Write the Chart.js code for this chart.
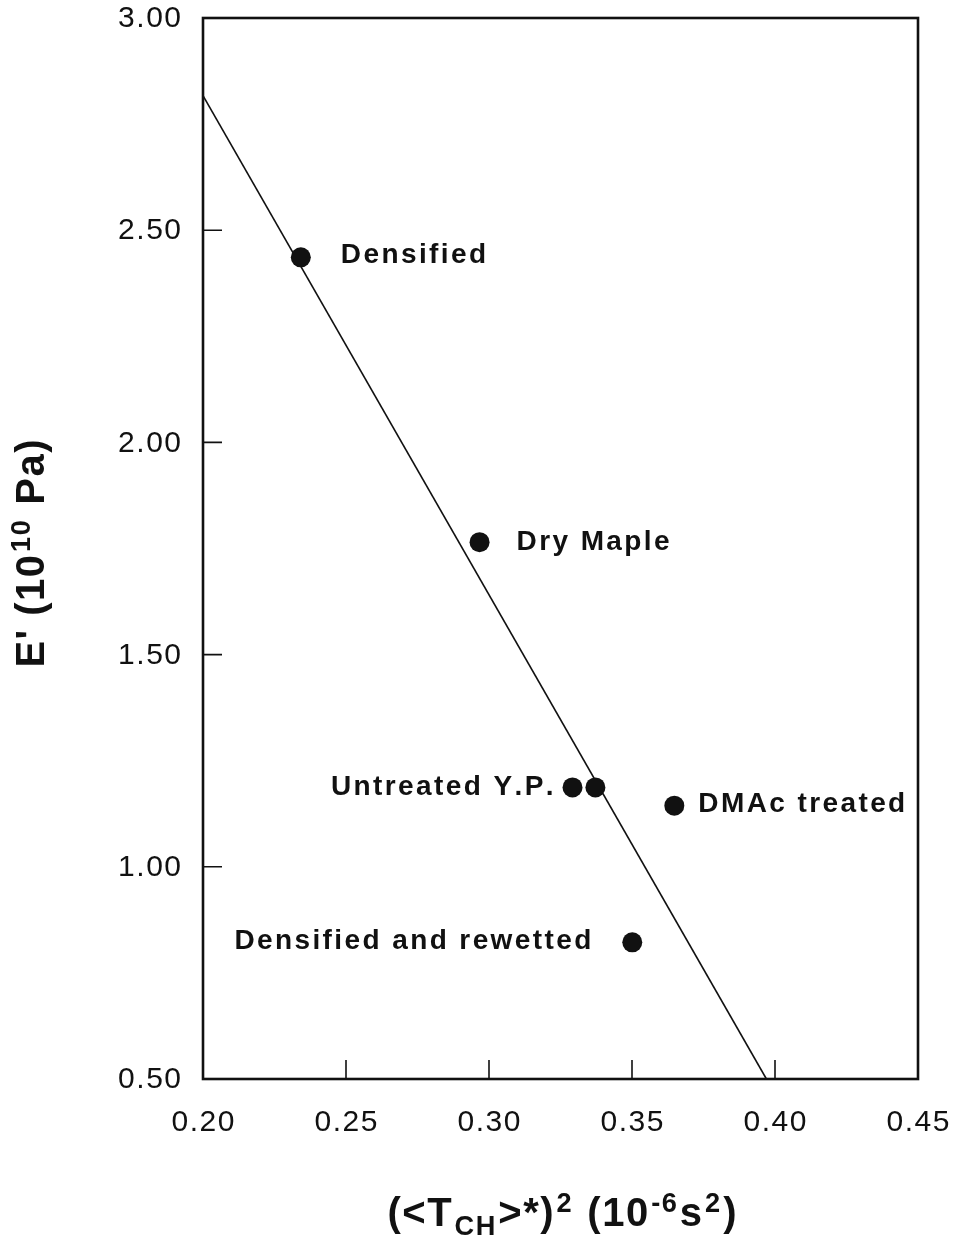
<!DOCTYPE html>
<html>
<head>
<meta charset="utf-8">
<script src="https://cdn.jsdelivr.net/npm/chart.js@4/dist/chart.umd.min.js"></script>
<style>
  html, body { margin: 0; padding: 0; background: #fff; }
  #wrap { width: 956px; height: 1244px; }
</style>
</head>
<body>
<div id="wrap"><canvas id="c" width="956" height="1244"></canvas></div>
<script>
// Samples: squared normalized relaxation time vs. storage modulus
const sampleNames    = ["Densified", "Dry Maple", "Untreated Y.P.", "", "DMAc treated", "Densified and rewetted"];
const tauSquared     = [0.2342, 0.2967, 0.3292, 0.3372, 0.3648, 0.3501];
const storageModulus = [2.436, 1.765, 1.187, 1.187, 1.144, 0.822];

// End points of the fitted straight line
const fitX = [0.200, 0.397];
const fitY = [2.817, 0.500];

// Axis tick values
const xTicks = [0.20, 0.25, 0.30, 0.35, 0.40, 0.45];
const yTicks = [0.50, 1.00, 1.50, 2.00, 2.50, 3.00];

// Where each sample name sits relative to its dot (pixels)
const labelPlacement = [
  { align: "left",  dx: 40,  dy: -2 },
  { align: "left",  dx: 37,  dy: 0 },
  { align: "right", dx: -19, dy: 0 },
  null,
  { align: "left",  dx: 24,  dy: -1 },
  { align: "right", dx: -41, dy: -1 }
];

const INK = "#111";
const SANS = '"Liberation Sans", Arial, Helvetica, sans-serif';

// Draw text one glyph at a time so letter spacing can be controlled
function spacedWidth(ctx, text, spacing) {
  let w = 0;
  for (const ch of text) w += ctx.measureText(ch).width + spacing;
  return text.length ? w - spacing : 0;
}
function drawSpaced(ctx, text, x, y, spacing) {
  for (const ch of text) {
    ctx.fillText(ch, x, y);
    x += ctx.measureText(ch).width + spacing;
  }
  return x;
}

// Rich text runs: {t, sup} / {t, sub}
function runsWidth(ctx, runs, size, spacing) {
  let w = 0;
  runs.forEach((r, i) => {
    const s = (r.sup || r.sub) ? size * 0.68 : size;
    ctx.font = `bold ${s}px ${SANS}`;
    w += spacedWidth(ctx, r.t, spacing) + (i < runs.length - 1 ? spacing : 0);
  });
  return w;
}
function drawRuns(ctx, runs, x, baseline, size, spacing) {
  runs.forEach(r => {
    const s = (r.sup || r.sub) ? size * 0.68 : size;
    ctx.font = `bold ${s}px ${SANS}`;
    let y = baseline;
    if (r.sup) y = baseline - size * 0.36;
    if (r.sub) y = baseline + size * 0.22;
    x = drawSpaced(ctx, r.t, x, y, spacing) + spacing;
  });
}

const xTitle = [
  { t: "(<T" }, { t: "CH", sub: true }, { t: ">*)" }, { t: "2", sup: true },
  { t: " (10" }, { t: "-6", sup: true }, { t: "s" }, { t: "2", sup: true }, { t: ")" }
];
const yTitle = [
  { t: "E' (10" }, { t: "10", sup: true }, { t: " Pa)" }
];

const decorations = {
  id: "decorations",
  afterDatasetsDraw(chart) {
    const { ctx, chartArea: a, scales: { x, y } } = chart;
    ctx.save();
    ctx.strokeStyle = INK;
    ctx.fillStyle = INK;

    // frame
    ctx.lineWidth = 2.6;
    ctx.strokeRect(a.left, a.top, a.right - a.left, a.bottom - a.top);

    // inward tick marks
    ctx.lineWidth = 1.6;
    ctx.beginPath();
    x.ticks.forEach(t => {
      const px = x.getPixelForValue(t.value);
      if (px <= a.left + 1 || px >= a.right - 1) return;
      ctx.moveTo(px, a.bottom);
      ctx.lineTo(px, a.bottom - 19);
    });
    y.ticks.forEach(t => {
      const py = y.getPixelForValue(t.value);
      if (py <= a.top + 1 || py >= a.bottom - 1) return;
      ctx.moveTo(a.left, py);
      ctx.lineTo(a.left + 19, py);
    });
    ctx.stroke();

    // tick labels
    const tkSp = 1.5;
    ctx.font = `30px ${SANS}`;
    ctx.textBaseline = "middle";
    ctx.textAlign = "left";
    x.ticks.forEach(t => {
      const s = t.value.toFixed(2);
      const w = spacedWidth(ctx, s, tkSp);
      drawSpaced(ctx, s, x.getPixelForValue(t.value) - w / 2, a.bottom + 44, tkSp);
    });
    y.ticks.forEach(t => {
      const s = t.value.toFixed(2);
      const w = spacedWidth(ctx, s, tkSp);
      drawSpaced(ctx, s, a.left - 22 - w, y.getPixelForValue(t.value) + 1, tkSp);
    });

    // sample names next to their dots
    const lbSp = 2.4;
    ctx.font = `bold 28px ${SANS}`;
    const meta = chart.getDatasetMeta(1);
    sampleNames.forEach((name, i) => {
      const p = labelPlacement[i];
      if (!name || !p) return;
      const el = meta.data[i];
      const w = spacedWidth(ctx, name, lbSp);
      const sx = p.align === "left" ? el.x + p.dx : el.x + p.dx - w;
      drawSpaced(ctx, name, sx, el.y + p.dy, lbSp);
    });

    // axis titles
    ctx.textBaseline = "alphabetic";
    const tSize = 40, tSp = 1.5;
    const xw = runsWidth(ctx, xTitle, tSize, tSp);
    drawRuns(ctx, xTitle, 556 - xw / 2, 1226, tSize, tSp);

    const yw = runsWidth(ctx, yTitle, tSize, tSp);
    ctx.translate(44, 555);
    ctx.rotate(-Math.PI / 2);
    drawRuns(ctx, yTitle, -yw / 2, 0, tSize, tSp);
    ctx.restore();
  }
};

new Chart(document.getElementById("c"), {
  type: "scatter",
  data: {
    datasets: [
      {
        label: "fit",
        data: fitX.map((v, i) => ({ x: v, y: fitY[i] })),
        showLine: true,
        borderColor: INK,
        borderWidth: 1.6,
        pointRadius: 0,
        fill: false,
        order: 2
      },
      {
        label: "samples",
        data: tauSquared.map((v, i) => ({ x: v, y: storageModulus[i] })),
        pointRadius: 10,
        pointBackgroundColor: INK,
        pointBorderWidth: 0,
        showLine: false,
        order: 1
      }
    ]
  },
  options: {
    responsive: false,
    animation: false,
    events: [],
    layout: { padding: { top: 18, right: 38, left: 0, bottom: 0 } },
    plugins: { legend: { display: false }, tooltip: { enabled: false } },
    scales: {
      x: {
        type: "linear",
        min: xTicks[0],
        max: xTicks[xTicks.length - 1],
        afterBuildTicks: s => { s.ticks = xTicks.map(v => ({ value: v })); },
        afterFit: s => { s.height = 165; },
        ticks: { display: false },
        grid: { display: false },
        border: { display: false }
      },
      y: {
        type: "linear",
        min: yTicks[0],
        max: yTicks[yTicks.length - 1],
        afterBuildTicks: s => { s.ticks = yTicks.map(v => ({ value: v })); },
        afterFit: s => { s.width = 203; },
        ticks: { display: false },
        grid: { display: false },
        border: { display: false }
      }
    }
  },
  plugins: [decorations]
});
</script>
</body>
</html>
